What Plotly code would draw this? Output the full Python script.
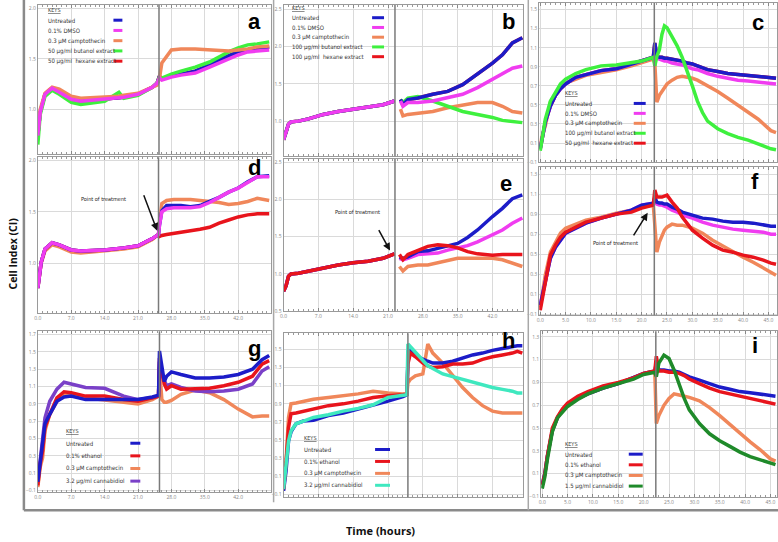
import plotly.graph_objects as go

# ------------------------------------------------------------------ data
# Panel a
a_t = [0, 0.5, 1.5, 3, 4.5, 7, 9, 14, 17, 18, 21, 24, 25, 25.5, 26, 28, 30, 33, 36, 38, 40, 42, 44, 46, 48.5]
a_untreated = [0.74, 0.97, 1.15, 1.21, 1.17, 1.10, 1.08, 1.10, 1.11, 1.12, 1.15, 1.22, 1.26, 1.33, 1.30, 1.33, 1.35, 1.38, 1.44, 1.49, 1.53, 1.57, 1.59, 1.61, 1.62]
a_dmso = [0.74, 0.97, 1.15, 1.21, 1.17, 1.10, 1.08, 1.10, 1.11, 1.12, 1.15, 1.22, 1.26, 1.31, 1.29, 1.32, 1.34, 1.36, 1.42, 1.46, 1.50, 1.54, 1.57, 1.58, 1.59]
a_campto = [0.77, 1.00, 1.16, 1.22, 1.20, 1.13, 1.11, 1.12, 1.13, 1.14, 1.16, 1.22, 1.24, 1.31, 1.46, 1.59, 1.60, 1.60, 1.59, 1.58, 1.58, 1.59, 1.60, 1.62, 1.63]
a_butanol = [0.65, 0.95, 1.13, 1.19, 1.15, 1.07, 1.05, 1.08, 1.17, 1.11, 1.14, 1.22, 1.26, 1.32, 1.31, 1.35, 1.38, 1.42, 1.47, 1.52, 1.57, 1.61, 1.64, 1.65, 1.67]
a_hexane = [0.74, 0.97, 1.15, 1.21, 1.17, 1.10, 1.08, 1.10, 1.11, 1.12, 1.15, 1.22, 1.26, 1.33, 1.30, 1.33, 1.35, 1.38, 1.44, 1.49, 1.53, 1.57, 1.59, 1.61, 1.62]

# Panel b
b_t = [0, 0.5, 1, 1.5, 3, 5, 8, 11, 14, 17, 20, 22.3, None, 23.5, 24, 25, 27, 30, 33, 36, 39, 42, 44, 46, 48]
b_untreated = [0.75, 0.84, 0.96, 0.99, 1.00, 1.03, 1.09, 1.13, 1.16, 1.19, 1.22, 1.27, None, 1.29, 1.22, 1.29, 1.31, 1.36, 1.40, 1.49, 1.63, 1.78, 1.89, 2.05, 2.12]
b_dmso = [0.75, 0.84, 0.96, 0.99, 1.00, 1.03, 1.09, 1.13, 1.16, 1.19, 1.22, 1.27, None, 1.27, 1.20, 1.25, 1.25, 1.27, 1.31, 1.36, 1.45, 1.56, 1.63, 1.71, 1.74]
b_campto = [0.75, 0.84, 0.96, 0.99, 1.00, 1.03, 1.09, 1.13, 1.16, 1.19, 1.22, 1.27, None, 1.16, 1.07, 1.09, 1.11, 1.13, 1.18, 1.22, 1.25, 1.25, 1.20, 1.13, 1.11]
b_butanol = [0.75, 0.84, 0.96, 0.99, 1.00, 1.03, 1.09, 1.13, 1.16, 1.19, 1.22, 1.27, None, 1.29, 1.25, 1.31, 1.33, 1.27, 1.20, 1.13, 1.09, 1.05, 1.01, 1.00, 0.98]
b_hexane = [0.75, 0.84, 0.96, 0.99, 1.00, 1.03, 1.09, 1.13, 1.16, 1.19, 1.22, 1.27, None, 1.29, 1.22, 1.29, 1.31, 1.36, 1.40, 1.49, 1.63, 1.78, 1.89, 2.05, 2.12]

# Panel c
c_t = [0, 0.3, 1, 2, 3, 4, 5, 7, 9, 12, 15, 18, 20, 22.3, 22.6, 23, 23.5, 24, 24.5, 25, 26, 27, 28, 29, 30, 31, 32, 33, 35, 37, 39, 41, 43, 45.5, 46.5]
c_untreated = [0.04, 0.14, 0.32, 0.49, 0.60, 0.67, 0.72, 0.79, 0.82, 0.86, 0.88, 0.93, 0.96, 1.00, 1.15, 1.01, 1.00, 1.00, 0.99, 0.99, 0.98, 0.97, 0.96, 0.94, 0.93, 0.91, 0.89, 0.87, 0.85, 0.83, 0.82, 0.81, 0.80, 0.78, 0.78]
c_dmso = [0.04, 0.14, 0.32, 0.49, 0.60, 0.67, 0.72, 0.79, 0.82, 0.86, 0.88, 0.93, 0.96, 1.00, 1.10, 0.99, 0.98, 0.97, 0.96, 0.96, 0.94, 0.93, 0.92, 0.90, 0.88, 0.87, 0.85, 0.83, 0.80, 0.78, 0.76, 0.75, 0.74, 0.72, 0.72]
c_campto = [0.06, 0.16, 0.28, 0.53, 0.61, 0.68, 0.73, 0.77, 0.81, 0.84, 0.87, 0.91, 0.94, 0.98, 0.94, 0.53, 0.60, 0.64, 0.68, 0.72, 0.76, 0.79, 0.80, 0.79, 0.78, 0.76, 0.73, 0.70, 0.64, 0.57, 0.50, 0.42, 0.35, 0.23, 0.21]
c_butanol = [0.02, 0.11, 0.35, 0.54, 0.63, 0.72, 0.77, 0.83, 0.87, 0.91, 0.92, 0.94, 0.96, 1.00, 0.91, 1.01, 1.08, 1.24, 1.33, 1.31, 1.22, 1.12, 1.00, 0.86, 0.70, 0.54, 0.42, 0.33, 0.25, 0.20, 0.16, 0.13, 0.09, 0.04, 0.03]
c_hexane = [0.04, 0.14, 0.32, 0.49, 0.60, 0.67, 0.72, 0.79, 0.82, 0.86, 0.88, 0.93, 0.96, 1.00, 1.15, 1.01, 1.00, 1.00, 0.99, 0.99, 0.98, 0.97, 0.96, 0.94, 0.93, 0.91, 0.89, 0.87, 0.85, 0.83, 0.82, 0.81, 0.80, 0.78, 0.78]

# Panel d
d_t = [0, 0.7, 1.5, 3, 4.5, 7, 9, 14, 18, 21, 24, 25.3, 25.5, 26, 27, 28.5, 30, 32, 34, 36, 38, 40, 42, 44, 46, 48.5]
d_untreated = [0.76, 1.01, 1.14, 1.20, 1.18, 1.13, 1.12, 1.13, 1.15, 1.17, 1.24, 1.28, 1.37, 1.51, 1.56, 1.56, 1.56, 1.55, 1.56, 1.60, 1.64, 1.69, 1.73, 1.79, 1.84, 1.85]
d_dmso = [0.76, 1.01, 1.14, 1.20, 1.18, 1.13, 1.12, 1.13, 1.15, 1.17, 1.24, 1.28, 1.37, 1.50, 1.53, 1.54, 1.54, 1.54, 1.55, 1.59, 1.64, 1.69, 1.73, 1.79, 1.84, 1.84]
d_campto = [0.76, 1.00, 1.12, 1.18, 1.16, 1.11, 1.10, 1.12, 1.14, 1.16, 1.23, 1.28, 1.40, 1.58, 1.61, 1.62, 1.62, 1.62, 1.61, 1.60, 1.59, 1.57, 1.58, 1.60, 1.63, 1.61]
d_hexane = [0.76, 1.01, 1.14, 1.20, 1.18, 1.13, 1.12, 1.13, 1.15, 1.17, 1.24, 1.28, 1.26, 1.27, 1.28, 1.29, 1.30, 1.31, 1.33, 1.35, 1.39, 1.42, 1.45, 1.47, 1.48, 1.48]

# Panel e
e_t = [0, 0.5, 1, 1.5, 3, 5, 8, 11, 14, 17, 20, 22.3, None, 23.3, 24, 25, 27, 29, 31, 33, 35, 37, 39, 42, 44, 46, 48]
e_untreated = [0.77, 0.84, 0.97, 1.00, 1.01, 1.04, 1.08, 1.12, 1.15, 1.17, 1.21, 1.27, None, 1.23, 1.21, 1.23, 1.30, 1.31, 1.34, 1.37, 1.41, 1.49, 1.59, 1.77, 1.88, 2.01, 2.06]
e_dmso = [0.77, 0.84, 0.97, 1.00, 1.01, 1.04, 1.08, 1.12, 1.15, 1.17, 1.21, 1.27, None, 1.21, 1.19, 1.21, 1.26, 1.27, 1.28, 1.32, 1.35, 1.38, 1.43, 1.52, 1.59, 1.68, 1.75]
e_campto = [0.77, 0.84, 0.97, 1.00, 1.01, 1.04, 1.08, 1.12, 1.15, 1.17, 1.21, 1.27, None, 1.10, 1.04, 1.10, 1.12, 1.12, 1.15, 1.19, 1.21, 1.21, 1.21, 1.21, 1.19, 1.15, 1.10]
e_hexane = [0.77, 0.84, 0.97, 1.00, 1.01, 1.04, 1.08, 1.12, 1.15, 1.17, 1.21, 1.27, None, 1.26, 1.19, 1.26, 1.32, 1.37, 1.39, 1.38, 1.35, 1.30, 1.27, 1.25, 1.26, 1.26, 1.26]

# Panel f
f_t = [0, 1, 2, 3, 4, 5, 7, 9, 12, 15, 18, 20, 22.3, 22.6, 23, 23.5, 24, 24.5, 25, 26, 27, 28, 30, 32, 34, 36, 38, 40, 42, 44, 45.5, 46.5]
f_untreated = [-0.01, 0.22, 0.46, 0.57, 0.64, 0.71, 0.76, 0.81, 0.86, 0.90, 0.94, 0.99, 1.01, 1.07, 1.02, 1.01, 1.01, 1.00, 1.00, 0.97, 0.95, 0.92, 0.89, 0.86, 0.85, 0.83, 0.82, 0.82, 0.81, 0.79, 0.78, 0.78]
f_dmso = [-0.01, 0.22, 0.46, 0.57, 0.64, 0.71, 0.76, 0.81, 0.86, 0.90, 0.94, 0.99, 1.01, 1.05, 1.00, 0.99, 0.99, 0.98, 0.97, 0.94, 0.92, 0.89, 0.86, 0.82, 0.79, 0.77, 0.75, 0.74, 0.73, 0.72, 0.70, 0.70]
f_campto = [-0.03, 0.29, 0.52, 0.62, 0.71, 0.76, 0.80, 0.84, 0.87, 0.91, 0.94, 0.97, 0.99, 0.79, 0.52, 0.62, 0.68, 0.74, 0.77, 0.80, 0.79, 0.79, 0.76, 0.71, 0.64, 0.58, 0.52, 0.47, 0.42, 0.36, 0.31, 0.29]
f_hexane = [-0.06, 0.22, 0.49, 0.59, 0.67, 0.72, 0.77, 0.82, 0.86, 0.90, 0.92, 0.96, 0.99, 1.14, 1.07, 1.07, 1.07, 1.08, 1.09, 1.02, 0.96, 0.87, 0.74, 0.66, 0.59, 0.54, 0.52, 0.49, 0.47, 0.44, 0.41, 0.40]

# Panel g
g_t = [0, 0.5, 1, 1.5, 2.5, 4, 5.5, 7, 10, 14, 18, 21, 24, 25.3, 25.5, 26, 26.5, 27, 28, 30, 33, 36, 39, 42, 45, 47, 48.5]
g_untreated = [0.00, 0.24, 0.47, 0.67, 0.78, 0.93, 0.98, 0.99, 0.95, 0.95, 0.94, 0.95, 0.98, 1.00, 1.51, 1.36, 1.16, 1.22, 1.27, 1.24, 1.20, 1.20, 1.21, 1.24, 1.30, 1.41, 1.46]
g_ethanol = [-0.04, 0.21, 0.36, 0.63, 0.78, 0.97, 1.04, 1.03, 0.99, 0.99, 0.95, 0.93, 0.97, 0.99, 1.43, 1.28, 1.13, 1.07, 1.11, 1.07, 1.07, 1.08, 1.11, 1.15, 1.22, 1.36, 1.40]
g_campto = [-0.06, 0.17, 0.28, 0.59, 0.78, 0.93, 1.02, 1.01, 0.97, 0.95, 0.92, 0.90, 0.95, 0.99, 1.32, 0.95, 0.92, 0.92, 0.94, 1.01, 1.06, 1.03, 0.95, 0.84, 0.75, 0.76, 0.76]
g_cbd = [0.01, 0.28, 0.51, 0.74, 0.93, 1.07, 1.15, 1.13, 1.09, 1.08, 0.99, 0.95, 0.97, 0.99, 1.39, 1.24, 1.16, 1.11, 1.13, 1.09, 1.05, 1.04, 1.05, 1.07, 1.13, 1.28, 1.33]

# Panel h
h_t = [0, 0.5, 1, 1.5, 2.5, 4, 6, 9, 12, 15, 18, 21, 24, 24.8, 25, 25.5, 26.5, 28, 29, 30, 32, 34, 36, 38, 40, 42, 44, 46, 47, 48]
h_untreated = [-0.06, 0.16, 0.49, 0.59, 0.68, 0.71, 0.72, 0.77, 0.80, 0.84, 0.89, 0.93, 0.98, 1.00, 1.37, 1.48, 1.43, 1.39, 1.37, 1.35, 1.35, 1.37, 1.41, 1.44, 1.46, 1.49, 1.51, 1.53, 1.54, 1.54]
h_ethanol = [-0.04, 0.24, 0.64, 0.79, 0.80, 0.82, 0.84, 0.88, 0.90, 0.93, 0.97, 0.99, 1.00, 1.01, 1.34, 1.46, 1.42, 1.35, 1.32, 1.30, 1.31, 1.34, 1.34, 1.35, 1.39, 1.42, 1.44, 1.46, 1.48, 1.46]
h_campto = [-0.05, 0.27, 0.75, 0.90, 0.91, 0.93, 0.95, 0.97, 0.99, 1.01, 1.04, 1.02, 1.01, 1.01, 1.13, 1.17, 1.21, 1.23, 1.56, 1.46, 1.35, 1.21, 1.08, 0.97, 0.88, 0.82, 0.80, 0.80, 0.80, 0.80]
h_cbd = [-0.04, 0.20, 0.49, 0.60, 0.68, 0.71, 0.75, 0.78, 0.82, 0.85, 0.89, 0.97, 0.99, 1.00, 1.56, 1.53, 1.47, 1.39, 1.32, 1.29, 1.23, 1.20, 1.17, 1.14, 1.11, 1.08, 1.06, 1.04, 1.02, 1.02]

# Panel i
i_t = [0, 0.5, 1, 2, 3, 4, 5, 7, 9, 12, 15, 18, 20, 22.2, 22.5, 23, 24, 25, 26, 27, 28, 29, 31, 33, 35, 37, 39, 41, 43, 45, 46]
i_untreated = [0.01, 0.10, 0.25, 0.48, 0.59, 0.66, 0.71, 0.76, 0.80, 0.85, 0.89, 0.94, 0.98, 1.00, 1.07, 1.01, 1.01, 1.00, 1.00, 0.99, 0.97, 0.95, 0.92, 0.89, 0.86, 0.84, 0.82, 0.81, 0.80, 0.79, 0.78]
i_ethanol = [0.00, 0.09, 0.25, 0.50, 0.60, 0.67, 0.72, 0.78, 0.82, 0.87, 0.90, 0.94, 0.98, 1.00, 1.13, 1.00, 1.00, 0.99, 0.99, 0.98, 0.96, 0.93, 0.89, 0.85, 0.82, 0.80, 0.78, 0.76, 0.74, 0.72, 0.71]
i_campto = [0.01, 0.10, 0.25, 0.48, 0.59, 0.66, 0.71, 0.76, 0.80, 0.85, 0.89, 0.94, 0.98, 1.00, 0.54, 0.61, 0.70, 0.76, 0.80, 0.79, 0.78, 0.77, 0.74, 0.68, 0.61, 0.53, 0.45, 0.38, 0.31, 0.23, 0.21]
i_cbd = [-0.03, 0.07, 0.22, 0.47, 0.59, 0.64, 0.69, 0.75, 0.80, 0.85, 0.89, 0.93, 0.97, 0.99, 0.95, 1.07, 1.14, 1.11, 1.01, 0.88, 0.76, 0.66, 0.54, 0.45, 0.39, 0.34, 0.29, 0.25, 0.22, 0.19, 0.18]

# treatment time per panel (hours)
treat_time = {"a": 25.4, "b": 22.4, "c": 22.5, "d": 25.3, "e": 22.4, "f": 22.5, "g": 25.5, "h": 25.0, "i": 22.4}

# legend labels
keys_a = ["Untreated", "0.1% DMSO", "0.3 \u00b5M camptothecin", "50 \u00b5g/ml butanol extract", "50 \u00b5g/ml  hexane extract"]
keys_b = ["Untreated", "0.1% DMSO", "0.3 \u00b5M camptothecin", "100 \u00b5g/ml butanol extract", "100 \u00b5g/ml  hexane extract"]
keys_c = ["Untreated", "0.1% DMSO", "0.3 \u00b5M camptothecin", "100 \u00b5g/ml butanol extract", "50 \u00b5g/ml  hexane extract"]
keys_g = ["Untreated", "0.1% ethanol", "0.3 \u00b5M camptothecin", "3.2 \u00b5g/ml cannabidiol"]
keys_h = ["Untreated", "0.1% ethanol", "0.3 \u00b5M camptothecin", "3.2 \u00b5g/ml cannabidiol"]
keys_i = ["Untreated", "0.1% ethanol", "0.3 \u00b5M camptothecin", "1.5 \u00b5g/ml cannabidiol"]

# ------------------------------------------------------------------ style
BLUE = "#1c1cc8"; PINK = "#f03cf0"; ORANGE = "#f0875a"; GREEN = "#3ef03e"
RED = "#e8141c"; PURPLE = "#7a40c8"; CYAN = "#3fe8bf"; DKGREEN = "#1f8a2a"

W, H = 778, 542
def fx(px): return px / W
def fy(py): return 1 - py / H

panels = [
    dict(k="a", t=a_t, ser=[(a_hexane, RED), (a_untreated, BLUE), (a_butanol, GREEN), (a_campto, ORANGE), (a_dmso, PINK)],
         box=(34, 268, 5, 155), xr=(0, 48.8), yr=(0.556, 2.036), xd=7, y0=0.5, yd=0.5, xl=False, let=(252, 22),
         keys=keys_a, kc=[BLUE, PINK, ORANGE, GREEN, RED], kp=(42, 10, 10.3, 110, 119)),
    dict(k="b", t=b_t, ser=[(b_hexane, RED), (b_campto, ORANGE), (b_butanol, GREEN), (b_untreated, BLUE), (b_dmso, PINK)],
         box=(281, 522, 5, 157), xr=(0, 48.2), yr=(0.53, 2.56), xd=7, y0=0.5, yd=0.5, xl=False, let=(507, 22),
         keys=keys_b, kc=[BLUE, PINK, ORANGE, GREEN, RED], kp=(287, 8, 9.8, 370, 382)),
    dict(k="c", t=c_t, ser=[(c_hexane, RED), (c_campto, ORANGE), (c_dmso, PINK), (c_untreated, BLUE), (c_butanol, GREEN)],
         box=(538, 777, 3, 163), xr=(-0.2, 46.7), yr=(-0.1, 1.57), xd=5, y0=-0.1, yd=0.2, xl=False, let=(758, 23),
         keys=keys_c, kc=[BLUE, PINK, ORANGE, GREEN, RED], kp=(562, 94, 10, 633, 645)),
    dict(k="d", t=d_t, ser=[(d_campto, ORANGE), (d_hexane, RED), (d_untreated, BLUE), (d_dmso, PINK)],
         box=(34, 268, 158, 315), xr=(0, 48.8), yr=(0.516, 2.03), xd=7, y0=0.5, yd=0.5, xl=True, let=(252, 168)),
    dict(k="e", t=e_t, ser=[(e_campto, ORANGE), (e_dmso, PINK), (e_untreated, BLUE), (e_hexane, RED)],
         box=(281, 522, 160, 313), xr=(0, 48.2), yr=(0.50, 2.54), xd=7, y0=0.5, yd=0.5, xl=True, let=(505, 185)),
    dict(k="f", t=f_t, ser=[(f_campto, ORANGE), (f_dmso, PINK), (f_untreated, BLUE), (f_hexane, RED)],
         box=(538, 777, 168, 317), xr=(-0.2, 46.7), yr=(-0.11, 1.37), xd=5, y0=-0.1, yd=0.2, xl=True, let=(755, 183)),
    dict(k="g", t=g_t, ser=[(g_campto, ORANGE), (g_cbd, PURPLE), (g_ethanol, RED), (g_untreated, BLUE)],
         box=(34, 268, 333, 495), xr=(0, 48.8), yr=(-0.12, 1.74), xd=7, y0=-0.1, yd=0.2, xl=True, let=(252, 350),
         keys=keys_g, kc=[BLUE, RED, ORANGE, PURPLE], kp=(60, 433, 12.7, 127, 137)),
    dict(k="h", t=h_t, ser=[(h_campto, ORANGE), (h_untreated, BLUE), (h_ethanol, RED), (h_cbd, CYAN)],
         box=(281, 522, 335, 500), xr=(0, 48.2), yr=(-0.13, 1.68), xd=7, y0=-0.1, yd=0.2, xl=False, let=(507, 342),
         keys=keys_h, kc=[BLUE, RED, ORANGE, CYAN], kp=(300, 440, 12, 373, 388)),
    dict(k="i", t=i_t, ser=[(i_campto, ORANGE), (i_untreated, BLUE), (i_ethanol, RED), (i_cbd, DKGREEN)],
         box=(540, 777, 333, 500), xr=(-0.2, 46.3), yr=(-0.106, 1.35), xd=5, y0=-0.1, yd=0.2, xl=True, let=(755, 347),
         keys=keys_i, kc=[BLUE, RED, ORANGE, DKGREEN], kp=(562, 446, 10.7, 628, 642)),
]

fig = go.Figure()
shapes, annos = [], []
LEGFONT = "DejaVu Sans Condensed, Liberation Sans Narrow, Arial"

def note(text, px, py, size, family=LEGFONT, color="#333", xanchor="center", **kw):
    d = dict(text=text, x=fx(px), y=fy(py), xref="paper", yref="paper", xanchor=xanchor,
             yanchor="middle", showarrow=False, font=dict(family=family, size=size, color=color))
    d.update(kw)
    return d

for n, p in enumerate(panels, start=1):
    sfx = "" if n == 1 else str(n)
    xa, ya = f"x{sfx}", f"y{sfx}"
    for vals, col in p["ser"]:
        fig.add_trace(go.Scatter(x=p["t"], y=vals, mode="lines", line=dict(color=col, width=3.5),
                                 xaxis=xa, yaxis=ya, showlegend=False, hoverinfo="skip"))
    x0, x1, yt, yb = p["box"]
    axx = dict(domain=[fx(x0), fx(x1)], anchor=ya, range=list(p["xr"]), tick0=0, dtick=p["xd"],
               tickformat=".1f", showticklabels=p["xl"], tickfont=dict(size=5, color="#888"),
               showgrid=True, gridcolor="#dadada", gridwidth=1, zeroline=False,
               showline=True, linecolor="#9a9a9a", linewidth=1, mirror="ticks",
               ticks="inside", ticklen=3, tickcolor="#888",
               minor=dict(ticks="inside", ticklen=2, tickcolor="#999", dtick=1, showgrid=False))
    axy = dict(domain=[fy(yb), fy(yt)], anchor=xa, range=list(p["yr"]), tick0=p["y0"], dtick=p["yd"],
               tickformat=".1f", tickfont=dict(size=5, color="#888"),
               showgrid=True, gridcolor="#dadada", gridwidth=1, zeroline=False,
               showline=True, linecolor="#9a9a9a", linewidth=1, mirror=True, ticks="")
    fig.layout[f"xaxis{sfx}"] = axx
    fig.layout[f"yaxis{sfx}"] = axy
    tt = treat_time[p["k"]]
    shapes.append(dict(type="line", xref=xa, yref=f"{ya} domain", x0=tt, x1=tt, y0=0, y1=1,
                       line=dict(color="#7a7a7a", width=1.5)))
    lx, ly = p["let"]
    annos.append(note(f"<b>{p['k']}</b>", lx, ly, 22, family="Liberation Sans, Arial", color="black"))
    if "keys" in p:
        tx, ky, dy, s0, s1 = p["kp"]
        annos.append(note("<u>KEYS</u>", tx, ky, 5.5, xanchor="left"))
        for j, (lab, col) in enumerate(zip(p["keys"], p["kc"])):
            yy = ky + dy * (j + 1)
            annos.append(note(lab, tx, yy, 6, xanchor="left"))
            shapes.append(dict(type="line", xref="paper", yref="paper", x0=fx(s0), x1=fx(s1),
                               y0=fy(yy), y1=fy(yy), line=dict(color=col, width=3)))

# point of treatment arrows (d, e, f)
pot = [((100, 200), (154, 232), (-14, -37)),
       ((355, 213), (388, 252), (-12, -22)),
       ((615, 244), (647, 214), (-15, 24))]
for (tx, ty), (hx, hy), (ax, ay) in pot:
    annos.append(note("Point of treatment", tx, ty, 5.5, color="#222"))
    annos.append(dict(text="", x=fx(hx), y=fy(hy), xref="paper", yref="paper", showarrow=True,
                      ax=ax, ay=ay, arrowhead=2, arrowsize=1, arrowwidth=1.5, arrowcolor="#111"))

# axis titles
annos.append(note("<b>Cell Index (CI)</b>", 9, 255, 10.5, family="Open Sans, Arial", color="#111", textangle=-90))
annos.append(note("<b>Time (hours)</b>", 378, 533, 11, family="Open Sans, Arial", color="#111"))

# frames
shapes += [
    dict(type="line", xref="paper", yref="paper", x0=fx(20), x1=fx(20), y0=fy(0), y1=fy(513), line=dict(color="#8a8a8a", width=2.5)),
    dict(type="line", xref="paper", yref="paper", x0=fx(20), x1=fx(778), y0=fy(513), y1=fy(513), line=dict(color="#8a8a8a", width=2.5)),
    dict(type="line", xref="paper", yref="paper", x0=fx(271), x1=fx(271), y0=fy(0), y1=fy(505), line=dict(color="#a8a8a8", width=1.5)),
    dict(type="line", xref="paper", yref="paper", x0=fx(527), x1=fx(527), y0=fy(0), y1=fy(513), line=dict(color="#a8a8a8", width=1.5)),
]

fig.update_layout(width=W, height=H, autosize=False, margin=dict(l=0, r=0, t=0, b=0),
                  paper_bgcolor="white", plot_bgcolor="white", shapes=shapes, annotations=annos,
                  showlegend=False)
fig.write_html("out.html", config={"displayModeBar": False},
               post_script="document.body.style.margin='0';document.body.style.overflow='hidden';")
